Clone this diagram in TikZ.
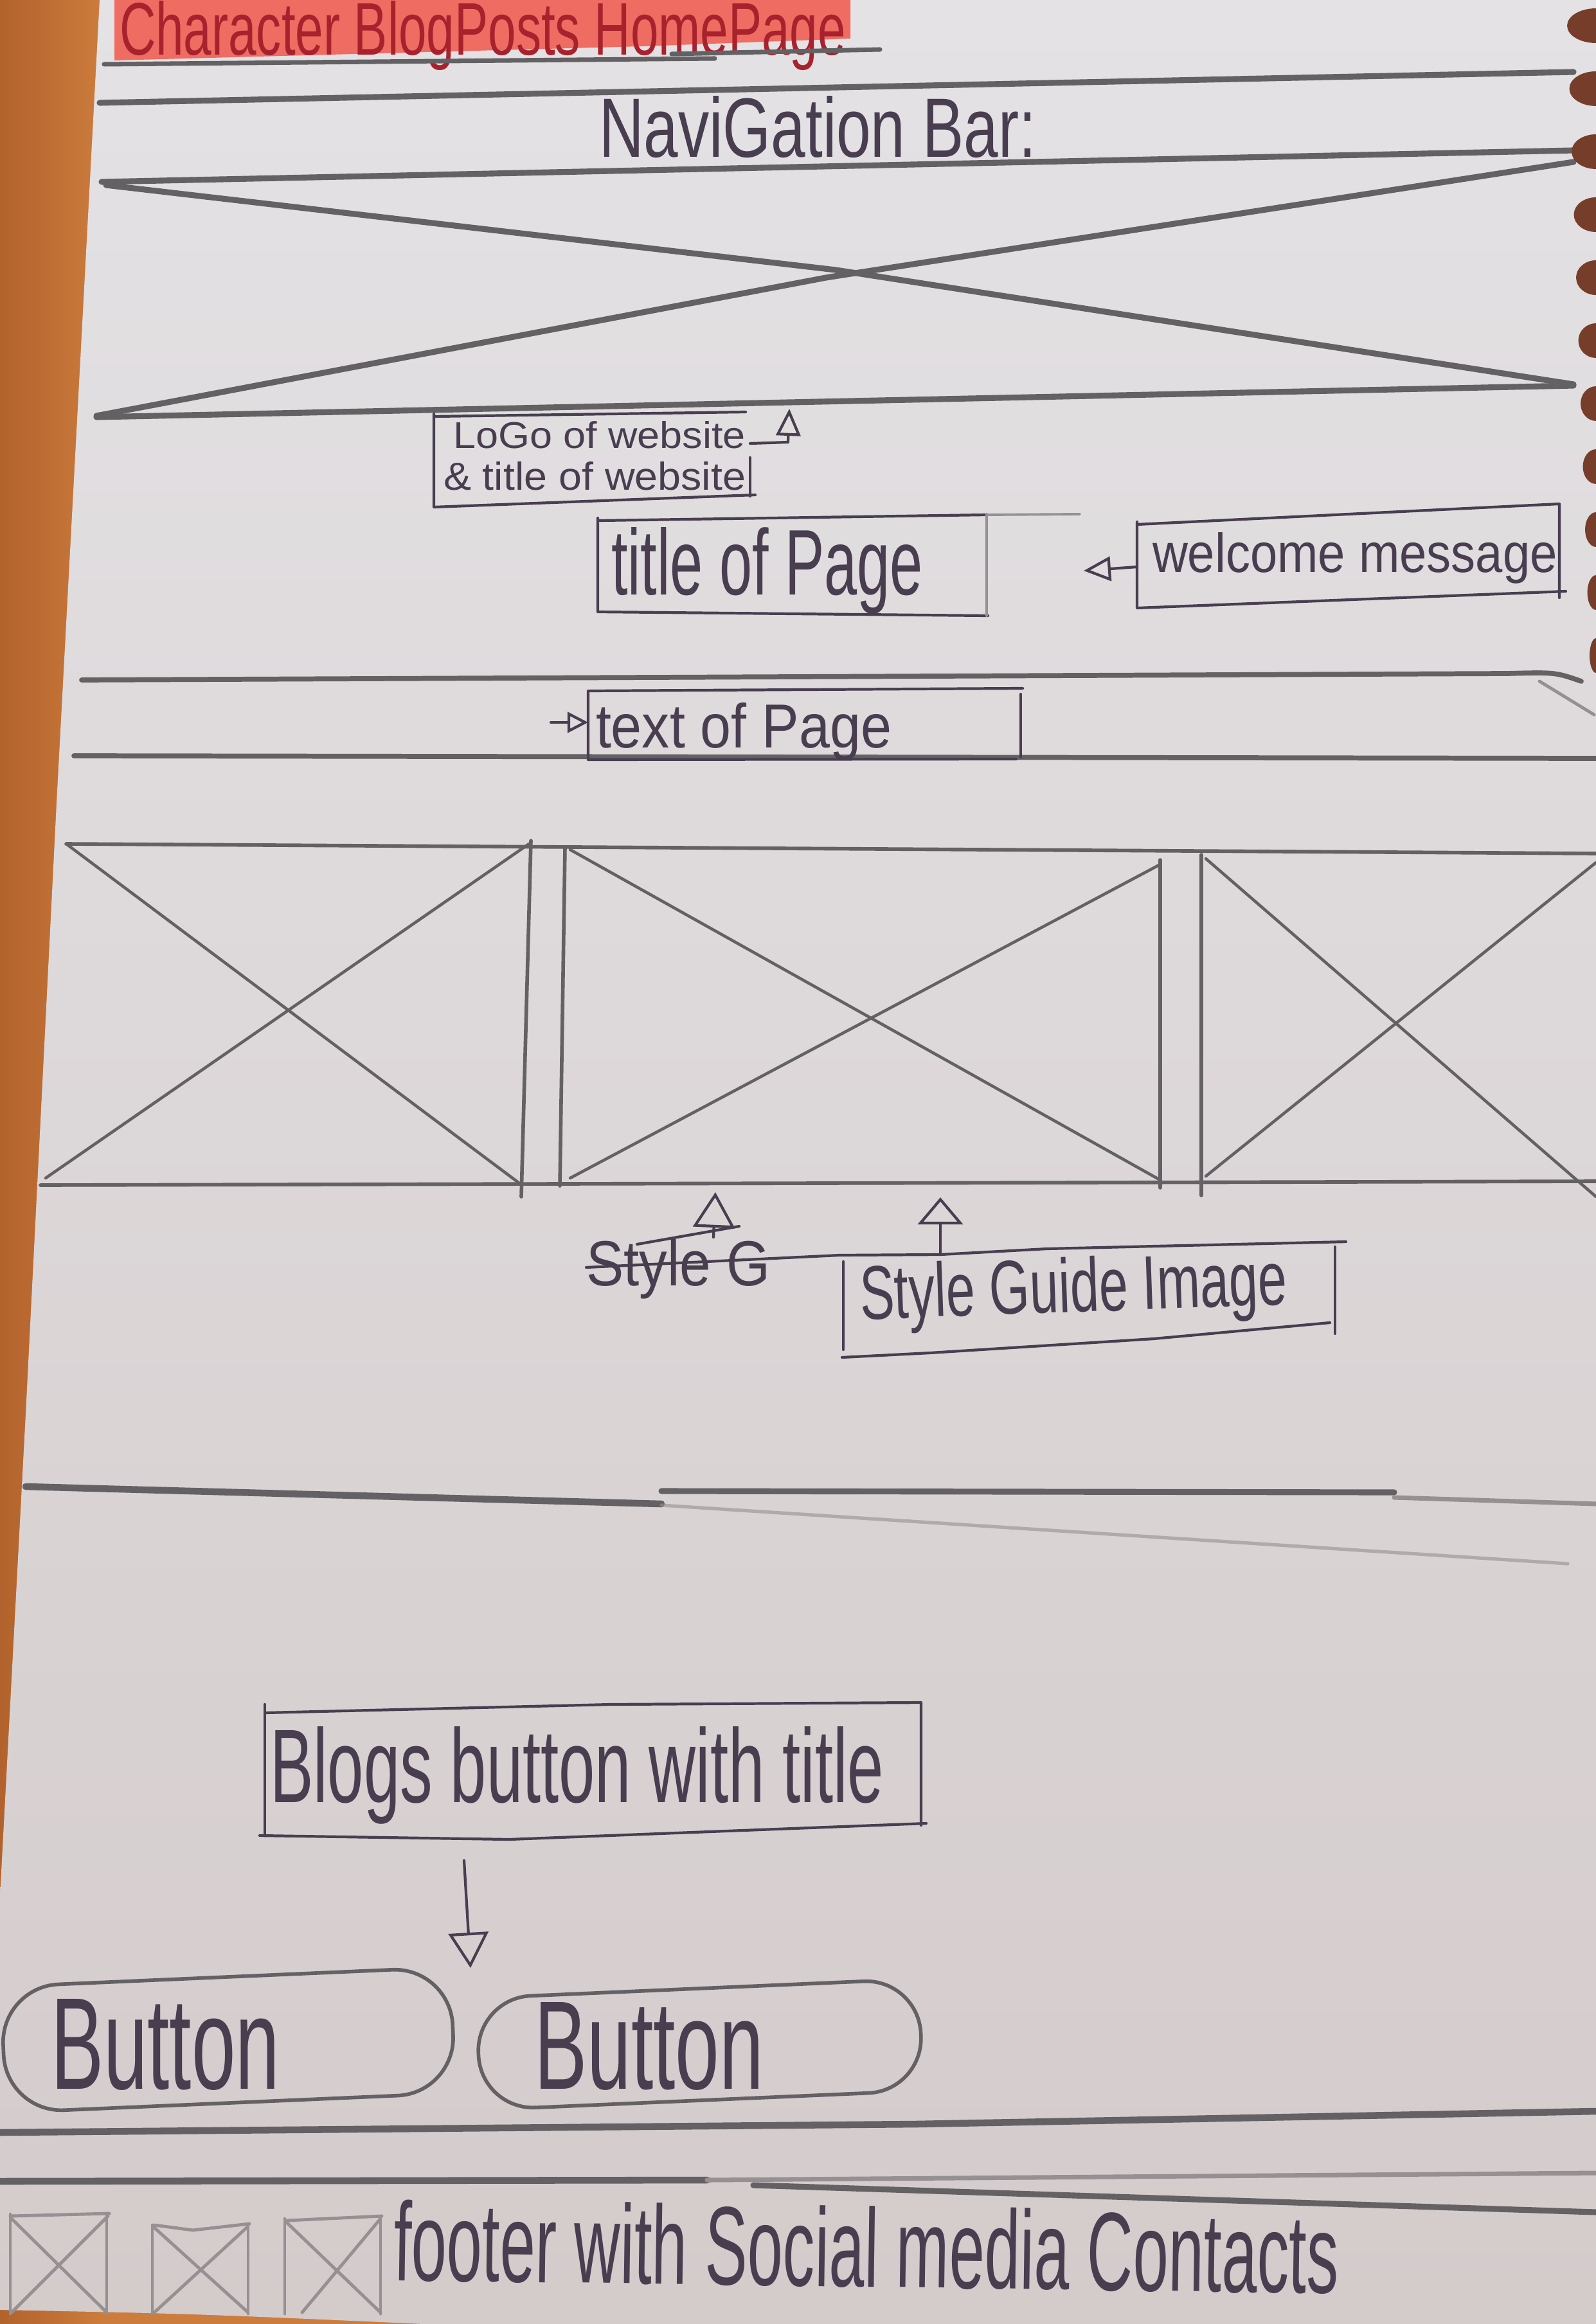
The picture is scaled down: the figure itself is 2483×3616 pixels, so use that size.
\documentclass[tikz,border=0pt]{standalone}
\usepackage{fontspec}
\usepackage{graphicx}
\usetikzlibrary{arrows.meta,calc}
\newfontfamily\handfont{Liberation Sans}
\newlength\upx \setlength\upx{0.01cm}
% hand lettering: text squeezed into a given width and height
\newcommand\hw[3]{\resizebox{#1\upx}{#2\upx}{\handfont #3}}

\definecolor{paperA}{RGB}{228,226,229}
\definecolor{paperB}{RGB}{212,203,203}
\definecolor{wood}{RGB}{204,124,60}
\definecolor{woodD}{RGB}{178,98,44}
\definecolor{hole}{RGB}{118,62,42}
\definecolor{pencil}{RGB}{100,97,100}
\definecolor{pencilL}{RGB}{150,144,146}
\definecolor{ink}{RGB}{72,62,80}
\definecolor{marker}{RGB}{238,108,98}
\definecolor{redink}{RGB}{168,34,46}

\tikzset{
  heavy/.style={draw=pencil, line width=2.6pt, line cap=round, line join=round},
  mid/.style={draw=pencil, line width=1.6pt, line cap=round, line join=round},
  faint/.style={draw=pencilL, line width=1.4pt, line cap=round},
  thin/.style={draw=ink, line width=1.2pt, line cap=round, line join=round},
  txt/.style={inner sep=0pt, outer sep=0pt, text=ink, anchor=base west},
  arr/.style={thin, -{Triangle[open, length=0.42cm, width=0.38cm]}},
  arrsmall/.style={thin, -{Triangle[open, length=0.32cm, width=0.32cm]}},
  arrbig/.style={thin, -{Triangle[open, length=0.55cm, width=0.65cm]}},
}

\begin{document}
\begin{tikzpicture}[x=0.01cm, y=-0.01cm]
\useasboundingbox (0,0) rectangle (2483,3616);

% table and sheet
\fill[wood] (0,0) rectangle (2483,3616);
\shade[left color=woodD, right color=wood] (0,0) rectangle (160,3616);
\shade[top color=paperA, bottom color=paperB]
  (155,0) -- (2483,0) -- (2483,3616) -- (660,3616)
  .. controls (300,3600) .. (0,3594) -- (0,2950) -- (40,2200) -- (88,1250) -- cycle;

% heading
\fill[marker] (178,0) -- (1323,0) -- (1323,60) -- (1000,72) -- (178,94) -- cycle;
\node[txt, text=redink] (heading) at (186,86) {\hw{1130}{84}{Character BlogPosts HomePage}};
\draw[heavy, line width=2pt] (162,100) -- (1112,91);
\draw[heavy, line width=2pt] (1045,84) -- (1369,77);

% navigation bar
\draw[heavy] (155,160) -- (2448,112);
\node[txt] (nav) at (932,245) {\hw{680}{95}{NaviGation Bar:}};
\draw[heavy] (158,283) -- (2448,234);

% banner image placeholder
\draw[heavy] (165,288) -- (1300,420) -- (2448,598);
\draw[heavy] (2448,252) -- (1285,432) -- (150,647);
\draw[heavy] (150,649) -- (2448,600);

% logo box
\draw[thin] (675,648) -- (1160,641);
\draw[thin] (675,644) -- (675,789) -- (1175,770);
\draw[thin] (1167,712) -- (1167,772);
\node[txt] (logo1) at (705,698) {\hw{455}{42}{LoGo of website}};
\node[txt] (logo2) at (690,762) {\hw{470}{44}{\& title of website}};
\coordinate (logoR) at (1167,690);
\coordinate (logoK) at (1226,688);
\coordinate (logoTip) at (1228,636);
\draw[thin] (logoR) -- (logoK);
\draw[arr] (logoK) -- (logoTip);

% page title box
\draw[thin] (933,810) -- (1535,801);
\draw[faint, line width=1.1pt] (1535,801) -- (1680,800);
\draw[thin] (930,806) -- (930,952) -- (1537,958);
\draw[thin, draw=pencilL] (1535,800) -- (1535,958);
\node[txt] (ptitle) at (951,925) {\hw{485}{105}{title of Page}};

% welcome message box
\draw[thin] (1769,816) -- (2426,784) -- (2426,930);
\draw[thin] (1769,812) -- (1769,946) -- (2436,920);
\node[txt] (welcome) at (1793,891) {\hw{630}{62}{welcome message}};
\coordinate (welL) at (1769,882);
\coordinate (welTip) at (1686,888);
\draw[arr] (welL) -- (welTip);

% text band
\draw[heavy, line width=2.2pt] (127,1058) -- (2345,1048) .. controls (2420,1046) .. (2460,1060);
\draw[faint] (2395,1060) -- (2480,1112);
\draw[heavy, line width=2.2pt] (115,1176) -- (2483,1180);

% page text box
\draw[thin] (917,1075) -- (1591,1071);
\draw[thin] (915,1075) -- (915,1182) -- (1581,1181);
\draw[thin] (1588,1080) -- (1588,1178);
\node[txt] (ptext) at (927,1163) {\hw{460}{70}{text of Page}};
\coordinate (ptextS) at (857,1124);
\coordinate (ptextTip) at (915,1124);
\draw[arrsmall] (ptextS) -- (ptextTip);

% row of three image placeholders
\draw[mid] (103,1313) -- (2483,1328);
\draw[mid] (63,1844) -- (2483,1838);
\draw[mid] (826,1308) -- (811,1862);
\draw[mid] (879,1318) -- (871,1845);
\draw[mid] (1805,1338) -- (1805,1848);
\draw[mid] (1869,1330) -- (1869,1860);
\draw[mid, line width=1.3pt] (103,1313) -- (808,1841);
\draw[mid, line width=1.3pt] (823,1313) -- (71,1833);
\draw[mid, line width=1.3pt] (887,1322) -- (1805,1836);
\draw[mid, line width=1.3pt] (1805,1345) -- (887,1833);
\draw[mid, line width=1.3pt] (1876,1336) -- (2483,1862);
\draw[mid, line width=1.3pt] (2483,1342) -- (1876,1830);

% style guide label
\node[txt] (oldlabel) at (912,2000) {\hw{286}{72}{Style G}};
\draw[thin] (912,1972) -- (1306,1953);
\draw[thin] (991,1936) -- (1150,1908);
\coordinate (oldS) at (1110,1925);
\coordinate (oldTip) at (1113,1855);
\draw[arrbig] (oldS) -- (oldTip);

\draw[thin] (1306,1953) -- (1463,1952) -- (1629,1943) -- (2094,1932);
\draw[thin] (1312,1963) -- (1312,2100);
\draw[thin] (1310,2112) -- (1447,2105) -- (1795,2083) -- (2069,2058);
\draw[thin] (2077,1940) -- (2077,2075);
\node[txt, rotate=2] (guide) at (1339,2053) {\hw{665}{86}{Style Guide Image}};
\coordinate (guideTop) at (1463,1952);
\coordinate (guideTip) at (1463,1863);
\draw[thin, -{Triangle[open, length=0.42cm, width=0.7cm]}] (guideTop) -- (guideTip);

% divider
\draw[heavy, line width=3pt] (40,2313) -- (1029,2340);
\draw[heavy, line width=2.6pt] (1029,2320) -- (2169,2322);
\draw[faint, line width=2pt] (2169,2330) -- (2483,2340);
\draw[faint, line width=1.5pt, opacity=.6] (1029,2342) -- (2439,2433);

% blogs button box
\draw[thin] (412,2665) -- (950,2652) -- (1433,2649) -- (1433,2840);
\draw[thin] (412,2652) -- (412,2856);
\draw[thin] (404,2856) -- (792,2862) -- (1441,2837);
\node[txt] (blogs) at (420,2804) {\hw{955}{118}{Blogs button with title}};
\coordinate (blogsS) at (722,2895);
\coordinate (blogsTip) at (732,3062);
\draw[thin, -{Triangle[open, length=0.55cm, width=0.62cm]}] (blogsS) -- (blogsTip);

% buttons
\draw[mid, rotate around={2.5:(355,3175)}, rounded corners=0.9cm] (5,3076) rectangle (705,3272);
\node[txt] (btn1) at (79,3250) {\hw{356}{140}{Button}};
\draw[mid, rotate around={2.5:(1088,3180)}, rounded corners=0.85cm] (744,3094) rectangle (1433,3268);
\node[txt] (btn2) at (831,3250) {\hw{357}{135}{Button}};

% footer
\draw[heavy, line width=3pt] (0,3318) -- (1425,3305) -- (2483,3285);
\draw[heavy, line width=3pt] (0,3394) -- (1100,3392);
\draw[faint, line width=2pt] (1100,3392) -- (2483,3381);
\draw[heavy, line width=2.6pt] (1172,3400) -- (2483,3442);

\draw[faint] (16,3448) -- (170,3444);
\draw[faint] (16,3445) -- (16,3600);
\draw[faint] (166,3444) -- (166,3600);
\draw[faint] (18,3452) -- (166,3598);
\draw[faint] (168,3448) -- (18,3598);

\draw[faint] (240,3462) -- (300,3470) -- (388,3460);
\draw[faint] (237,3462) -- (237,3600);
\draw[faint] (386,3460) -- (386,3600);
\draw[faint] (240,3466) -- (386,3598);
\draw[faint] (386,3464) -- (240,3598);

\draw[faint] (446,3455) -- (594,3448);
\draw[faint] (443,3452) -- (443,3600);
\draw[faint] (592,3450) -- (592,3600);
\draw[faint] (446,3458) -- (592,3598);
\draw[faint] (592,3452) -- (470,3598);

\node[txt, rotate=-0.8] (footer) at (612,3548) {\hw{1470}{126}{footer with Social media Contacts}};

% spiral holes along the right edge
\foreach \k in {0,...,10}
  \fill[hole] (2483,{40+98*\k}) ellipse [x radius={45-3.5*\k}, y radius=27];
\end{tikzpicture}
\end{document}
